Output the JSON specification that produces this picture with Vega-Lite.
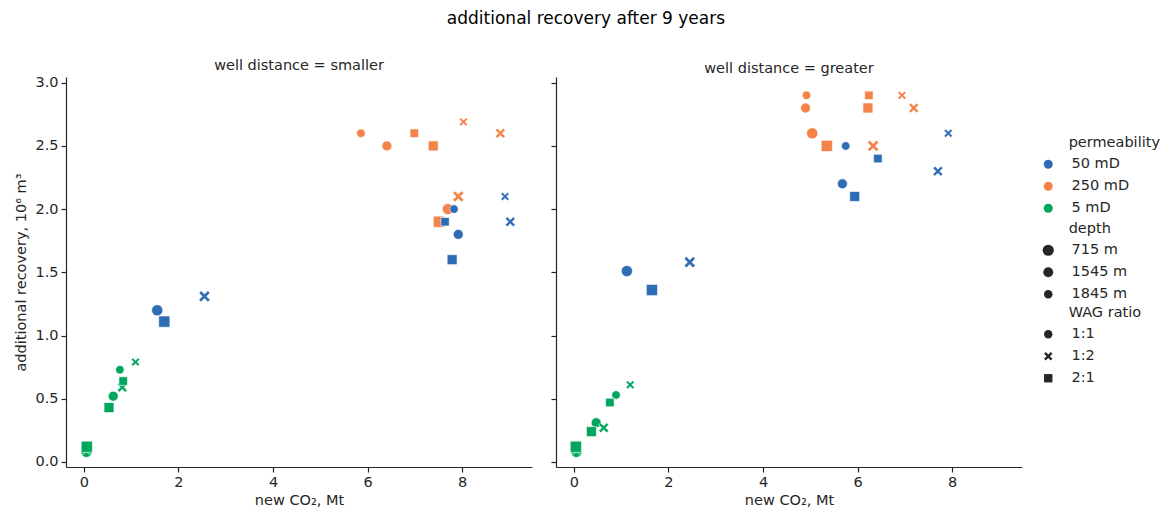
{
  "$schema": "https://vega.github.io/schema/vega-lite/v6.json",
  "padding": {"left": 13, "top": 10, "right": 5, "bottom": 5},
  "datasets": {
    "pts": [
      {"dist": "smaller", "perm": "50 mD", "depth": "715 m", "wag": "1:1", "co2": 1.55, "rec": 1.20},
      {"dist": "smaller", "perm": "50 mD", "depth": "715 m", "wag": "1:2", "co2": 2.55, "rec": 1.31},
      {"dist": "smaller", "perm": "50 mD", "depth": "715 m", "wag": "2:1", "co2": 1.70, "rec": 1.11},
      {"dist": "smaller", "perm": "250 mD", "depth": "715 m", "wag": "1:1", "co2": 7.70, "rec": 2.00},
      {"dist": "smaller", "perm": "250 mD", "depth": "715 m", "wag": "1:2", "co2": 7.92, "rec": 2.10},
      {"dist": "smaller", "perm": "250 mD", "depth": "715 m", "wag": "2:1", "co2": 7.51, "rec": 1.90},
      {"dist": "smaller", "perm": "5 mD", "depth": "715 m", "wag": "1:1", "co2": 0.05, "rec": 0.08},
      {"dist": "smaller", "perm": "5 mD", "depth": "715 m", "wag": "1:2", "co2": 0.05, "rec": 0.10},
      {"dist": "smaller", "perm": "5 mD", "depth": "715 m", "wag": "2:1", "co2": 0.06, "rec": 0.12},
      {"dist": "smaller", "perm": "50 mD", "depth": "1545 m", "wag": "1:1", "co2": 7.92, "rec": 1.80},
      {"dist": "smaller", "perm": "50 mD", "depth": "1545 m", "wag": "1:2", "co2": 9.02, "rec": 1.90},
      {"dist": "smaller", "perm": "50 mD", "depth": "1545 m", "wag": "2:1", "co2": 7.79, "rec": 1.60},
      {"dist": "smaller", "perm": "250 mD", "depth": "1545 m", "wag": "1:1", "co2": 6.41, "rec": 2.50},
      {"dist": "smaller", "perm": "250 mD", "depth": "1545 m", "wag": "1:2", "co2": 8.81, "rec": 2.60},
      {"dist": "smaller", "perm": "250 mD", "depth": "1545 m", "wag": "2:1", "co2": 7.39, "rec": 2.50},
      {"dist": "smaller", "perm": "5 mD", "depth": "1545 m", "wag": "1:1", "co2": 0.62, "rec": 0.52},
      {"dist": "smaller", "perm": "5 mD", "depth": "1545 m", "wag": "1:2", "co2": 0.81, "rec": 0.59},
      {"dist": "smaller", "perm": "5 mD", "depth": "1545 m", "wag": "2:1", "co2": 0.53, "rec": 0.43},
      {"dist": "smaller", "perm": "50 mD", "depth": "1845 m", "wag": "1:1", "co2": 7.83, "rec": 2.00},
      {"dist": "smaller", "perm": "50 mD", "depth": "1845 m", "wag": "1:2", "co2": 8.91, "rec": 2.10},
      {"dist": "smaller", "perm": "50 mD", "depth": "1845 m", "wag": "2:1", "co2": 7.64, "rec": 1.90},
      {"dist": "smaller", "perm": "250 mD", "depth": "1845 m", "wag": "1:1", "co2": 5.86, "rec": 2.60},
      {"dist": "smaller", "perm": "250 mD", "depth": "1845 m", "wag": "1:2", "co2": 8.03, "rec": 2.69},
      {"dist": "smaller", "perm": "250 mD", "depth": "1845 m", "wag": "2:1", "co2": 6.99, "rec": 2.60},
      {"dist": "smaller", "perm": "5 mD", "depth": "1845 m", "wag": "1:1", "co2": 0.76, "rec": 0.73},
      {"dist": "smaller", "perm": "5 mD", "depth": "1845 m", "wag": "1:2", "co2": 1.09, "rec": 0.79},
      {"dist": "smaller", "perm": "5 mD", "depth": "1845 m", "wag": "2:1", "co2": 0.83, "rec": 0.64},

      {"dist": "greater", "perm": "50 mD", "depth": "715 m", "wag": "1:1", "co2": 1.12, "rec": 1.51},
      {"dist": "greater", "perm": "50 mD", "depth": "715 m", "wag": "1:2", "co2": 2.45, "rec": 1.58},
      {"dist": "greater", "perm": "50 mD", "depth": "715 m", "wag": "2:1", "co2": 1.65, "rec": 1.36},
      {"dist": "greater", "perm": "250 mD", "depth": "715 m", "wag": "1:1", "co2": 5.04, "rec": 2.60},
      {"dist": "greater", "perm": "250 mD", "depth": "715 m", "wag": "1:2", "co2": 6.33, "rec": 2.50},
      {"dist": "greater", "perm": "250 mD", "depth": "715 m", "wag": "2:1", "co2": 5.35, "rec": 2.50},
      {"dist": "greater", "perm": "5 mD", "depth": "715 m", "wag": "1:1", "co2": 0.05, "rec": 0.08},
      {"dist": "greater", "perm": "5 mD", "depth": "715 m", "wag": "1:2", "co2": 0.05, "rec": 0.10},
      {"dist": "greater", "perm": "5 mD", "depth": "715 m", "wag": "2:1", "co2": 0.04, "rec": 0.12},
      {"dist": "greater", "perm": "50 mD", "depth": "1545 m", "wag": "1:1", "co2": 5.68, "rec": 2.20},
      {"dist": "greater", "perm": "50 mD", "depth": "1545 m", "wag": "1:2", "co2": 7.70, "rec": 2.30},
      {"dist": "greater", "perm": "50 mD", "depth": "1545 m", "wag": "2:1", "co2": 5.94, "rec": 2.10},
      {"dist": "greater", "perm": "250 mD", "depth": "1545 m", "wag": "1:1", "co2": 4.90, "rec": 2.80},
      {"dist": "greater", "perm": "250 mD", "depth": "1545 m", "wag": "1:2", "co2": 7.19, "rec": 2.80},
      {"dist": "greater", "perm": "250 mD", "depth": "1545 m", "wag": "2:1", "co2": 6.22, "rec": 2.80},
      {"dist": "greater", "perm": "5 mD", "depth": "1545 m", "wag": "1:1", "co2": 0.47, "rec": 0.31},
      {"dist": "greater", "perm": "5 mD", "depth": "1545 m", "wag": "1:2", "co2": 0.63, "rec": 0.27},
      {"dist": "greater", "perm": "5 mD", "depth": "1545 m", "wag": "2:1", "co2": 0.37, "rec": 0.24},
      {"dist": "greater", "perm": "50 mD", "depth": "1845 m", "wag": "1:1", "co2": 5.75, "rec": 2.50},
      {"dist": "greater", "perm": "50 mD", "depth": "1845 m", "wag": "1:2", "co2": 7.92, "rec": 2.60},
      {"dist": "greater", "perm": "50 mD", "depth": "1845 m", "wag": "2:1", "co2": 6.43, "rec": 2.40},
      {"dist": "greater", "perm": "250 mD", "depth": "1845 m", "wag": "1:1", "co2": 4.92, "rec": 2.90},
      {"dist": "greater", "perm": "250 mD", "depth": "1845 m", "wag": "1:2", "co2": 6.94, "rec": 2.90},
      {"dist": "greater", "perm": "250 mD", "depth": "1845 m", "wag": "2:1", "co2": 6.24, "rec": 2.90},
      {"dist": "greater", "perm": "5 mD", "depth": "1845 m", "wag": "1:1", "co2": 0.89, "rec": 0.53},
      {"dist": "greater", "perm": "5 mD", "depth": "1845 m", "wag": "1:2", "co2": 1.19, "rec": 0.61},
      {"dist": "greater", "perm": "5 mD", "depth": "1845 m", "wag": "2:1", "co2": 0.76, "rec": 0.47}
    ]
  },
  "title": {
    "text": "additional recovery after 9 years",
    "fontSize": 17,
    "fontWeight": "normal",
    "font": "DejaVu Sans",
    "color": "#000000",
    "anchor": "middle",
    "offset": 30,
    "dx": -1
  },
  "config": {
    "font": "DejaVu Sans",
    "view": {"stroke": null},
    "axis": {
      "grid": false,
      "domainColor": "#262626",
      "domainWidth": 1.2,
      "tickColor": "#262626",
      "tickWidth": 1.2,
      "tickSize": 5,
      "labelFontSize": 14.5,
      "labelColor": "#262626",
      "labelPadding": 3,
      "titleFontSize": 14.5,
      "titleFontWeight": "normal",
      "titleColor": "#262626",
      "labelFont": "DejaVu Sans",
      "titleFont": "DejaVu Sans"
    },
    "title": {"fontSize": 14.5, "fontWeight": "normal", "color": "#262626", "font": "DejaVu Sans", "offset": 1},
    "legend": {
      "labelFontSize": 14.5,
      "titleFontSize": 14.5,
      "titleFontWeight": "normal",
      "labelColor": "#262626",
      "titleColor": "#262626",
      "labelFont": "DejaVu Sans",
      "titleFont": "DejaVu Sans",
      "rowPadding": 7,
      "titlePadding": 6.5,
      "labelOffset": 16,
      "symbolStrokeWidth": 0,
      "orient": "none"
    }
  },
  "spacing": 18,
  "resolve": {"scale": {"x": "shared", "y": "shared", "color": "shared", "size": "shared", "shape": "shared"}},
  "hconcat": [
    {
      "data": {"name": "pts"},
      "transform": [{"filter": "datum.dist === 'smaller'"}],
      "title": "well distance = smaller",
      "width": 466,
      "height": 390,
      "mark": {"type": "point", "filled": true, "opacity": 1, "stroke": "white", "strokeWidth": 0.6},
      "encoding": {
        "x": {"field": "co2", "type": "quantitative", "scale": {"domain": [-0.38, 9.48], "nice": false, "zero": false},
              "axis": {"values": [0, 2, 4, 6, 8], "title": "new CO₂, Mt", "titlePadding": 5}},
        "y": {"field": "rec", "type": "quantitative", "scale": {"domain": [-0.04, 3.045], "nice": false, "zero": false},
              "axis": {"values": [0, 0.5, 1, 1.5, 2, 2.5, 3], "format": ".1f", "title": "additional recovery, 10⁶ m³", "titlePadding": 6}},
        "color": {"field": "perm", "type": "nominal", "title": "\u200b\u00a0\u00a0\u00a0\u00a0\u00a0\u00a0permeability",
                  "scale": {"domain": ["50 mD", "250 mD", "5 mD"], "range": ["#2E6DB4", "#F4834A", "#00A65D"]},
                  "legend": {"symbolType": "circle", "symbolSize": 80, "legendX": 975, "legendY": 59}},
        "size": {"field": "depth", "type": "nominal", "title": "\u200b\u00a0\u00a0\u00a0\u00a0\u00a0\u00a0depth",
                 "scale": {"domain": ["715 m", "1545 m", "1845 m"], "range": [125, 72, 28]},
                 "legend": {"symbolType": "circle", "symbolFillColor": "#262626", "legendX": 975, "legendY": 145}},
        "shape": {"field": "wag", "type": "nominal", "title": "\u200b\u00a0\u00a0\u00a0\u00a0\u00a0\u00a0WAG ratio",
                  "scale": {"domain": ["1:1", "1:2", "2:1"], "range": ["circle", "M-1,-0.6L-0.6,-1L0,-0.4L0.6,-1L1,-0.6L0.4,0L1,0.6L0.6,1L0,0.4L-0.6,1L-1,0.6L-0.4,0Z", "square"]},
                  "legend": {"symbolFillColor": "#262626", "symbolSize": 70, "legendX": 975, "legendY": 229}}
      }
    },
    {
      "data": {"name": "pts"},
      "transform": [{"filter": "datum.dist === 'greater'"}],
      "title": "well distance = greater",
      "width": 466,
      "height": 390,
      "mark": {"type": "point", "filled": true, "opacity": 1, "stroke": "white", "strokeWidth": 0.6},
      "encoding": {
        "x": {"field": "co2", "type": "quantitative", "scale": {"domain": [-0.38, 9.48], "nice": false, "zero": false},
              "axis": {"values": [0, 2, 4, 6, 8], "title": "new CO₂, Mt", "titlePadding": 5}},
        "y": {"field": "rec", "type": "quantitative", "scale": {"domain": [-0.04, 3.045], "nice": false, "zero": false},
              "axis": {"values": [0, 0.5, 1, 1.5, 2, 2.5, 3], "labels": false, "title": null}},
        "color": {"field": "perm", "type": "nominal", "title": "\u200b\u00a0\u00a0\u00a0\u00a0\u00a0\u00a0permeability",
                  "scale": {"domain": ["50 mD", "250 mD", "5 mD"], "range": ["#2E6DB4", "#F4834A", "#00A65D"]}},
        "size": {"field": "depth", "type": "nominal", "title": "\u200b\u00a0\u00a0\u00a0\u00a0\u00a0\u00a0depth",
                 "scale": {"domain": ["715 m", "1545 m", "1845 m"], "range": [125, 72, 28]}},
        "shape": {"field": "wag", "type": "nominal", "title": "\u200b\u00a0\u00a0\u00a0\u00a0\u00a0\u00a0WAG ratio",
                  "scale": {"domain": ["1:1", "1:2", "2:1"], "range": ["circle", "M-1,-0.6L-0.6,-1L0,-0.4L0.6,-1L1,-0.6L0.4,0L1,0.6L0.6,1L0,0.4L-0.6,1L-1,0.6L-0.4,0Z", "square"]}}
      }
    }
  ]
}
